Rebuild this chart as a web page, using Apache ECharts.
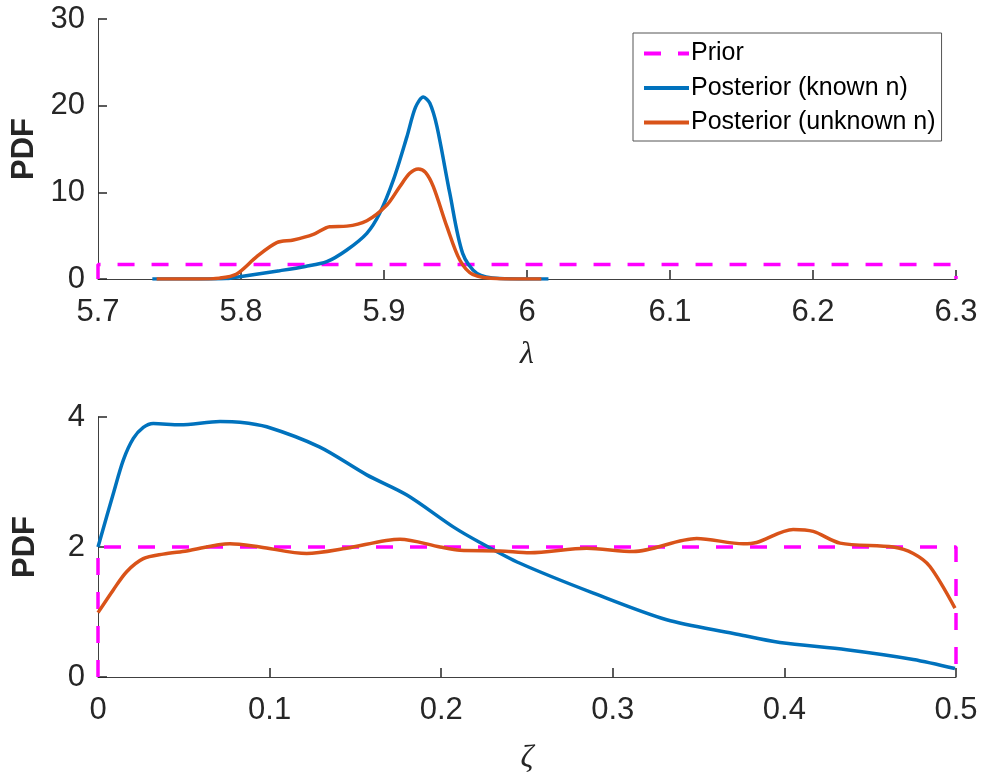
<!DOCTYPE html>
<html>
<head>
<meta charset="utf-8">
<script src="https://cdn.jsdelivr.net/npm/echarts@6/dist/echarts.min.js"></script>
<style>
html,body{margin:0;padding:0;background:#fff;}
#c{width:982px;height:776px;}
</style>
</head>
<body>
<div id="c"></div>
<script>
// ---- Data ----
const seriesNames = ['Prior', 'Posterior (known n)', 'Posterior (unknown n)'];

// Top panel: lambda
const lambdaTicks = [5.7, 5.8, 5.9, 6.0, 6.1, 6.2, 6.3];
const priorLambdaX = [5.7, 5.7, 6.3, 6.3];
const priorLambdaY = [0, 1.667, 1.667, 0];
const knownLambdaX = [5.738, 5.77, 5.79, 5.799, 5.827, 5.845, 5.860, 5.874, 5.888, 5.897, 5.9065, 5.916, 5.922, 5.9275, 5.932, 5.937, 5.946, 5.955, 5.965, 5.981, 6.0, 6.015];
const knownLambdaY = [0, 0, 0.05, 0.27, 0.96, 1.45, 2.0, 3.35, 5.27, 7.58, 11.4, 16.4, 19.8, 21.0, 20.3, 17.6, 9.9, 2.96, 0.65, 0.05, 0, 0];
const unknownLambdaX = [5.741, 5.77, 5.785, 5.797, 5.811, 5.825, 5.8366, 5.8506, 5.862, 5.874, 5.888, 5.902, 5.911, 5.918, 5.924, 5.929, 5.9345, 5.944, 5.953, 5.962, 5.981, 6.0, 6.010];
const unknownLambdaY = [0, 0, 0.1, 0.58, 2.57, 4.19, 4.5, 5.15, 6.04, 6.1, 6.73, 8.54, 10.65, 12.2, 12.7, 12.3, 10.65, 6.04, 2.19, 0.54, 0.03, 0, 0];

// Bottom panel: zeta
const zetaTicks = [0, 0.1, 0.2, 0.3, 0.4, 0.5];
const priorZetaX = [0, 0, 0.5, 0.5];
const priorZetaY = [0, 2, 2, 0];
const knownZetaX = [0, 0.0089, 0.0148, 0.0206, 0.0264, 0.0322, 0.0478, 0.0711, 0.0827, 0.0983, 0.129, 0.1566, 0.18, 0.207, 0.2226, 0.2459, 0.2887, 0.3314, 0.3703, 0.3974, 0.4363, 0.4751, 0.4994];
const knownZetaY = [2.0, 2.82, 3.34, 3.67, 3.84, 3.90, 3.88, 3.93, 3.92, 3.85, 3.54, 3.11, 2.8, 2.31, 2.07, 1.75, 1.29, 0.88, 0.67, 0.53, 0.42, 0.27, 0.13];
const unknownZetaX = [0, 0.0089, 0.0167, 0.0264, 0.038, 0.0517, 0.0769, 0.0944, 0.1216, 0.1449, 0.176, 0.1993, 0.211, 0.2343, 0.2517, 0.2848, 0.312, 0.3489, 0.376, 0.3838, 0.4051, 0.4168, 0.4324, 0.4634, 0.4751, 0.4848, 0.4994];
const unknownZetaY = [0.99, 1.34, 1.62, 1.82, 1.89, 1.94, 2.05, 2.0, 1.90, 1.98, 2.12, 2.0, 1.95, 1.94, 1.91, 1.98, 1.93, 2.13, 2.05, 2.07, 2.27, 2.24, 2.06, 2.0, 1.90, 1.70, 1.06];

// ---- Build chart ----
const zip = (xs, ys) => xs.map((x, i) => [x, ys[i]]);
const COL_PRIOR = '#FF00FF', COL_KNOWN = '#0072BD', COL_UNKNOWN = '#D95319';
const TXT = '#262626';
const FONT = '"Liberation Sans", Arial, Helvetica, sans-serif';
const fmt = v => String(parseFloat(Number(v).toFixed(2)));

function xAxisCfg(gridIndex, min, max, interval, name, gap) {
  return {
    type: 'value', gridIndex, min, max, interval,
    name, nameLocation: 'middle', nameGap: gap,
    nameTextStyle: { fontFamily: '"Liberation Serif", "DejaVu Serif", serif', fontStyle: 'italic', fontSize: 32, color: TXT },
    axisLine: { show: true, onZero: false, lineStyle: { color: '#404040', width: 1 } },
    axisTick: { show: true, inside: true, length: 9, lineStyle: { color: TXT, width: 1.5 } },
    axisLabel: { fontSize: 31, color: TXT, fontFamily: FONT, margin: 18, formatter: fmt, showMinLabel: true, showMaxLabel: true },
    splitLine: { show: false }
  };
}
function yAxisCfg(gridIndex, min, max, interval) {
  return {
    type: 'value', gridIndex, min, max, interval,
    name: 'PDF', nameLocation: 'middle', nameGap: 57, nameRotate: 90,
    nameTextStyle: { fontFamily: FONT, fontWeight: 'bold', fontSize: 31, color: TXT },
    axisLine: { show: true, onZero: false, lineStyle: { color: '#404040', width: 1 } },
    axisTick: { show: true, inside: true, length: 9, lineStyle: { color: TXT, width: 1.5 } },
    axisLabel: { fontSize: 31, color: TXT, fontFamily: FONT, margin: 13, formatter: fmt },
    splitLine: { show: false }
  };
}
function lineSeries(name, data, color, xi, dashed) {
  return {
    type: 'line', name, data, xAxisIndex: xi, yAxisIndex: xi,
    showSymbol: false, symbol: 'none',
    smooth: dashed ? false : 0.3,
    lineStyle: { color, width: 3.5, type: dashed ? [17, 17] : 'solid' },
    itemStyle: { color },
    z: dashed ? 2 : 3,
    animation: false
  };
}

const option = {
  animation: false,
  backgroundColor: '#fff',
  grid: [
    { left: 98, top: 19, width: 858, height: 260 },
    { left: 98, top: 417, width: 858, height: 260 }
  ],
  xAxis: [
    xAxisCfg(0, lambdaTicks[0], lambdaTicks[lambdaTicks.length - 1], 0.1, 'λ', 60),
    xAxisCfg(1, zetaTicks[0], zetaTicks[zetaTicks.length - 1], 0.1, 'ζ', 66)
  ],
  yAxis: [
    yAxisCfg(0, 0, 30, 10),
    yAxisCfg(1, 0, 4, 2)
  ],
  legend: {
    data: seriesNames,
    orient: 'vertical',
    left: 633, top: 33,
    padding: [8, 6, 6, 9],
    itemWidth: 45, itemHeight: 14, itemGap: 9.5,
    backgroundColor: '#fff',
    borderColor: '#555', borderWidth: 1,
    selectedMode: false,
    itemStyle: { color: 'transparent', borderWidth: 0, opacity: 0 },
    lineStyle: { width: 4 },
    textStyle: { fontSize: 25, color: '#000', fontFamily: FONT, padding: [0, 0, 0, -3] }
  },
  series: [
    lineSeries(seriesNames[0], zip(priorLambdaX, priorLambdaY), COL_PRIOR, 0, true),
    lineSeries(seriesNames[1], zip(knownLambdaX, knownLambdaY), COL_KNOWN, 0, false),
    lineSeries(seriesNames[2], zip(unknownLambdaX, unknownLambdaY), COL_UNKNOWN, 0, false),
    lineSeries(seriesNames[0], zip(priorZetaX, priorZetaY), COL_PRIOR, 1, true),
    lineSeries(seriesNames[1], zip(knownZetaX, knownZetaY), COL_KNOWN, 1, false),
    lineSeries(seriesNames[2], zip(unknownZetaX, unknownZetaY), COL_UNKNOWN, 1, false)
  ]
};

const chart = echarts.init(document.getElementById('c'), null, { renderer: 'canvas' });
chart.setOption(option);
</script>
</body>
</html>
